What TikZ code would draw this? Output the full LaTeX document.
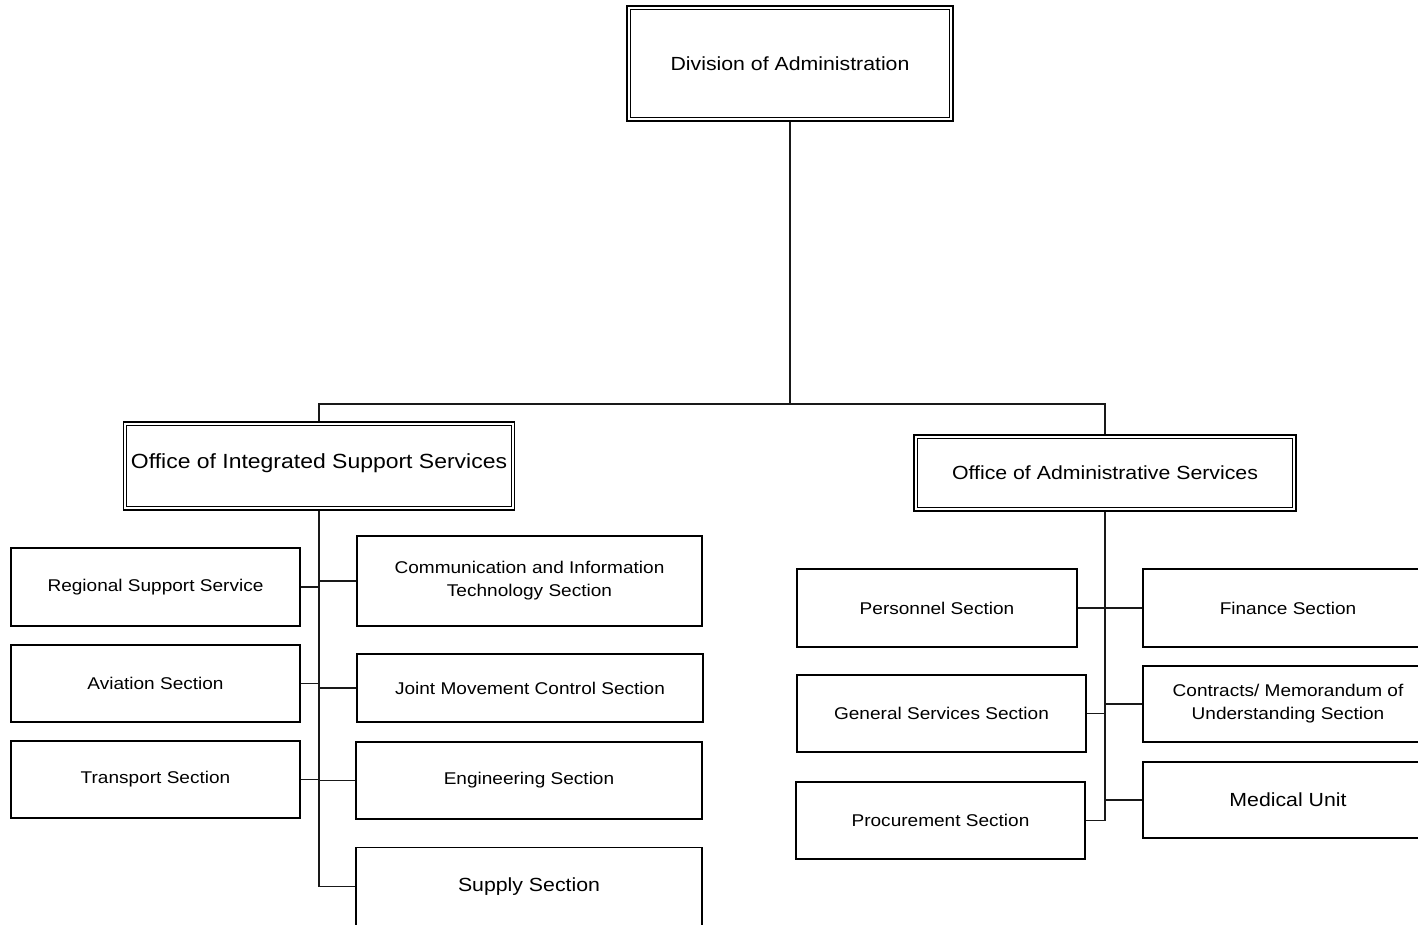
\documentclass[tikz,border=0pt]{standalone}
\usepackage{fontspec}
\setmainfont[FakeStretch=1.12]{Liberation Sans}
\usepackage{tikz}
\usetikzlibrary{positioning}

\tikzset{
  unit/.style={draw, line width=1.2pt, align=center, inner sep=0pt,
    font=\fontsize{17}{23}\selectfont},
  office/.style={draw, line width=1.6pt, align=center, inner sep=0pt},
  inner/.style={line width=0.9pt},
  link/.style={line width=1.4pt, black!90}
}

\begin{document}
\begin{tikzpicture}[x=1pt,y=-1pt]
\useasboundingbox (0,0) rectangle (1418,924);
\clip (0,0) rectangle (1418,924);

% top level
\node[office, minimum width=326pt, minimum height=115pt,
  font=\fontsize{19}{23}\selectfont] (div) at (790,63.5) {Division of Administration};
\node[office, minimum width=391pt, minimum height=88pt,
  font=\fontsize{20.5}{24}\selectfont] (oiss) at (319,466)
  {\raisebox{9pt}{Office of Integrated Support Services}};
\node[office, minimum width=382pt, minimum height=76pt,
  font=\fontsize{19}{23}\selectfont] (oas) at (1105,473) {Office of Administrative Services};
\foreach \n in {div,oiss,oas}
  \draw[inner] ([shift={(4,4)}]\n.north west) rectangle ([shift={(-4,-4)}]\n.south east);
\coordinate (bus) at (1105,404);

% integrated support services
\node[unit, minimum width=289pt, minimum height=78pt] (rss) at (155.5,587) {Regional Support Service};
\node[unit, minimum width=289pt, minimum height=77pt] (avi) at (155.5,683.5) {Aviation Section};
\node[unit, minimum width=289pt, minimum height=77pt] (trn) at (155.5,779.5) {Transport Section};
\node[unit, minimum width=345pt, minimum height=90pt] (cit) at (529.5,581)
  {Communication and Information\\Technology Section};
\node[unit, minimum width=346pt, minimum height=68pt] (jmc) at (530,688) {Joint Movement Control Section};
\node[unit, minimum width=346pt, minimum height=77pt] (eng) at (529,780.5) {Engineering Section};
\node[unit, minimum width=346pt, minimum height=78pt,
  font=\fontsize{19}{23}\selectfont] (sup) at (529,886.5) {Supply Section};

% administrative services
\node[unit, minimum width=280pt, minimum height=78pt] (per) at (937,608) {Personnel Section};
\node[unit, minimum width=289pt, minimum height=77pt] (gss) at (941.5,713.5) {General Services Section};
\node[unit, minimum width=289pt, minimum height=77pt] (pro) at (940.5,820.5) {Procurement Section};
\node[unit, minimum width=290pt, minimum height=78pt] (fin) at (1288,608) {Finance Section};
\node[unit, minimum width=290pt, minimum height=76pt] (con) at (1288,704)
  {Contracts/ Memorandum of\\Understanding Section};
\node[unit, minimum width=290pt, minimum height=76pt,
  font=\fontsize{19}{23}\selectfont] (med) at (1288,800) {Medical Unit};

% connectors
\draw[link] (div.south) -- (div.south |- bus);
\draw[link] (oiss.north) |- (bus) -- (oas.north);
\draw[link] (oiss.south) |- (sup.west);
\foreach \n in {rss,avi,trn} \draw[link] (\n.east) -- (\n.east -| oiss.south);
\foreach \n in {cit,jmc,eng} \draw[link] (\n.west) -- (\n.west -| oiss.south);
\draw[link] (oas.south) |- (pro.east);
\draw[link] (per.east) -- (fin.west);
\draw[link] (gss.east) -- (gss.east -| oas.south);
\foreach \n in {con,med} \draw[link] (\n.west) -- (\n.west -| oas.south);
\end{tikzpicture}
\end{document}
